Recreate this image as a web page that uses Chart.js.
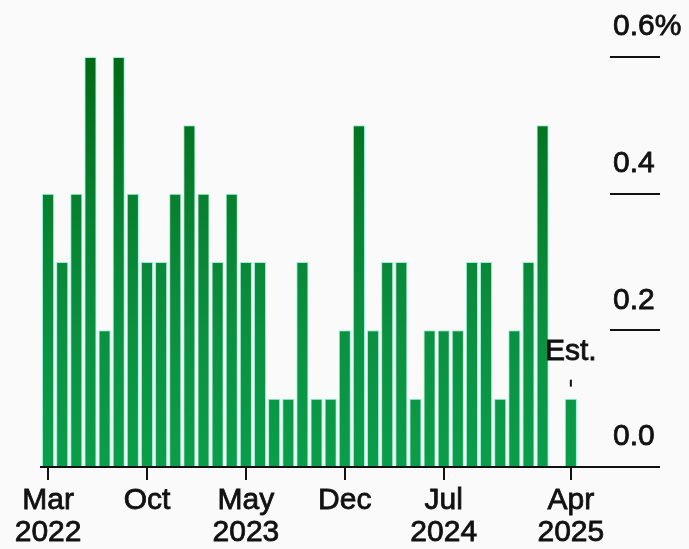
<!DOCTYPE html>
<html>
<head>
<meta charset="utf-8">
<script src="https://cdn.jsdelivr.net/npm/chart.js@4.4.1/dist/chart.umd.min.js"></script>
<style>
  html, body { margin: 0; padding: 0; background: #fafafa; }
  #wrap { width: 689px; height: 549px; position: relative; }
</style>
</head>
<body>
<div id="wrap"><canvas id="c"></canvas></div>
<script>
// Monthly change, %, March 2022 through April 2025 (last month is an estimate)
const months = [
  'Mar 2022','Apr 2022','May 2022','Jun 2022','Jul 2022','Aug 2022','Sep 2022','Oct 2022','Nov 2022','Dec 2022',
  'Jan 2023','Feb 2023','Mar 2023','Apr 2023','May 2023','Jun 2023','Jul 2023','Aug 2023','Sep 2023','Oct 2023',
  'Nov 2023','Dec 2023','Jan 2024','Feb 2024','Mar 2024','Apr 2024','May 2024','Jun 2024','Jul 2024','Aug 2024',
  'Sep 2024','Oct 2024','Nov 2024','Dec 2024','Jan 2025','Feb 2025','Mar 2025','Apr 2025'
];
const values = [
  0.4, 0.3, 0.4, 0.6, 0.2, 0.6, 0.4, 0.3, 0.3, 0.4,
  0.5, 0.4, 0.3, 0.4, 0.3, 0.3, 0.1, 0.1, 0.3, 0.1,
  0.1, 0.2, 0.5, 0.2, 0.3, 0.3, 0.1, 0.2, 0.2, 0.2,
  0.3, 0.3, 0.1, 0.2, 0.3, 0.5, 0.0, 0.1
];
const estIndex = 37;            // Apr 2025
const estLabel = 'Est.';

const xTickPos = [0, 7, 14, 21, 28, 37];
const xTickLabels = [['Mar', '2022'], ['Oct'], ['May', '2023'], ['Dec'], ['Jul', '2024'], ['Apr', '2025']];
const yTickVals = [0, 0.2, 0.4, 0.6];
const yTickLabels = ['0.0', '0.2', '0.4', '0.6%'];

const FONT = '"Liberation Sans", Arial, Helvetica, sans-serif';
const INK = '#111111';
const TEXT_STROKE = 0.8;   // slight outline so the labels read a little heavier

const points = values.map((v, i) => ({ x: i, y: v }));

function barFill(c) {
  const chart = c.chart;
  const a = chart.chartArea;
  if (!a) return '#0a9a48';
  const g = chart.ctx.createLinearGradient(0, a.top, 0, a.bottom);
  g.addColorStop(0, '#006a14');
  g.addColorStop(0.35, '#07802f');
  g.addColorStop(0.66, '#0a9040');
  g.addColorStop(1, '#0a9e4a');
  return g;
}

// "Est." note with a short marker above the estimated bar
const estNote = {
  id: 'estNote',
  afterDatasetsDraw(chart) {
    const xs = chart.scales.x, ys = chart.scales.y, ctx = chart.ctx;
    const x = xs.getPixelForValue(estIndex);
    const top = ys.getPixelForValue(values[estIndex]);
    ctx.save();
    ctx.strokeStyle = INK;
    ctx.lineWidth = 2;
    ctx.beginPath();
    ctx.moveTo(x, top - 19);
    ctx.lineTo(x, top - 12);
    ctx.stroke();
    ctx.fillStyle = INK;
    ctx.font = '30px ' + FONT;
    ctx.textAlign = 'center';
    ctx.textBaseline = 'alphabetic';
    ctx.lineWidth = TEXT_STROKE;
    ctx.strokeText(estLabel, x, top - 39);
    ctx.fillText(estLabel, x, top - 39);
    ctx.restore();
  }
};

new Chart(document.getElementById('c'), {
  type: 'bar',
  data: {
    datasets: [{
      label: 'Monthly change',
      data: points,
      backgroundColor: barFill,
      borderColor: '#9af3d8',
      borderWidth: 1,
      borderSkipped: 'start',
      barPercentage: 0.86,
      categoryPercentage: 1
    }]
  },
  options: {
    responsive: true,
    maintainAspectRatio: false,
    animation: false,
    layout: { padding: { left: 41, top: 57, right: 0, bottom: 0 } },
    plugins: { legend: { display: false }, tooltip: { enabled: false } },
    scales: {
      x: {
        type: 'linear',
        min: -0.5,
        max: 39.77,
        offset: false,
        afterBuildTicks: s => { s.ticks = xTickPos.map(v => ({ value: v })); },
        afterFit: s => { s.height = 82; },
        grid: { offset: false, drawOnChartArea: false, drawTicks: true, tickLength: 13, color: INK, lineWidth: 2 },
        border: { display: true, color: INK, width: 2 },
        ticks: {
          autoSkip: false,
          maxRotation: 0,
          padding: 5,
          color: INK,
          textStrokeColor: INK,
          textStrokeWidth: TEXT_STROKE,
          font: { family: FONT, size: 30, lineHeight: 1.07 },
          callback: v => xTickLabels[xTickPos.indexOf(v)]
        }
      },
      y: {
        position: 'right',
        min: 0,
        max: 0.6,
        afterBuildTicks: s => { s.ticks = yTickVals.map(v => ({ value: v })); },
        afterFit: s => { s.width = 79; },
        grid: { drawOnChartArea: false, drawTicks: true, tickLength: 50, color: INK, lineWidth: 2 },
        border: { display: false },
        ticks: {
          padding: -47,
          labelOffset: -30,
          color: INK,
          textStrokeColor: INK,
          textStrokeWidth: TEXT_STROKE,
          font: { family: FONT, size: 30 },
          callback: v => yTickLabels[yTickVals.indexOf(v)]
        }
      }
    }
  },
  plugins: [estNote]
});
</script>
</body>
</html>
